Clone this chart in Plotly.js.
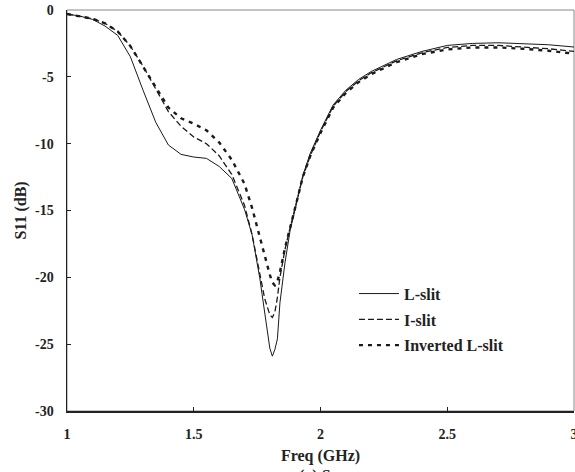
<!DOCTYPE html>
<html>
<head>
<meta charset="utf-8">
<script src="https://cdn.plot.ly/plotly-3.0.1.min.js"></script>
<style>html,body{margin:0;padding:0;background:#fff;}#chart{width:575px;height:472px;}</style>
</head>
<body>
<div id="chart"></div>
<script>
var freq = [1.00,1.05,1.10,1.15,1.20,1.25,1.30,1.35,1.40,1.45,1.50,1.55,1.60,1.65,1.70,1.73,1.76,1.78,1.80,1.81,1.82,1.83,1.84,1.86,1.88,1.90,1.93,1.96,2.00,2.05,2.10,2.15,2.20,2.30,2.40,2.50,2.60,2.70,2.80,2.90,3.00];
var lSlit = [-0.3,-0.45,-0.7,-1.2,-1.9,-3.5,-6.0,-8.4,-10.1,-10.8,-11.0,-11.1,-11.7,-12.6,-14.9,-16.8,-20.0,-22.7,-25.3,-25.9,-25.4,-24.6,-21.9,-18.9,-16.5,-14.9,-12.4,-10.7,-9.0,-7.1,-6.0,-5.2,-4.6,-3.7,-3.1,-2.65,-2.5,-2.45,-2.5,-2.6,-2.77];
var iSlit = [-0.3,-0.45,-0.65,-1.0,-1.6,-2.7,-4.2,-5.9,-7.6,-8.7,-9.5,-10.0,-10.9,-12.3,-14.6,-16.8,-19.6,-21.6,-22.8,-23.0,-22.6,-21.5,-20.0,-17.9,-16.3,-14.8,-12.5,-10.9,-9.1,-7.2,-6.1,-5.3,-4.7,-3.8,-3.2,-2.8,-2.65,-2.65,-2.75,-2.9,-3.1];
var invLSlit = [-0.3,-0.45,-0.65,-1.0,-1.6,-2.7,-4.2,-5.8,-7.3,-8.1,-8.5,-9.0,-9.9,-11.2,-13.0,-14.8,-17.0,-18.5,-19.8,-20.4,-20.6,-20.3,-19.6,-17.8,-16.2,-14.8,-12.5,-10.9,-9.2,-7.3,-6.2,-5.4,-4.8,-3.9,-3.3,-2.95,-2.8,-2.8,-2.9,-3.05,-3.27];
var seriesNames = ['L-slit','I-slit','Inverted L-slit'];
var xTickVals = [1,1.5,2,2.5,3];
var xTickText = ['1','1.5','2','2.5','3'];
var yTickVals = [-30,-25,-20,-15,-10,-5,0];
var yTickText = ['-30','-25','-20','-15','-10','-5','0'];

var serif = 'Liberation Serif, Times New Roman, serif';
var traces = [
  {x:freq, y:lSlit, name:seriesNames[0], legendgroup:'a', mode:'lines', line:{color:'#1a1a1a', width:1}},
  {x:freq, y:iSlit, name:seriesNames[1], legendgroup:'b', mode:'lines', line:{color:'#1a1a1a', width:1.3, dash:'6px,3px'}},
  {x:freq, y:invLSlit, name:seriesNames[2], legendgroup:'c', mode:'lines', line:{color:'#1a1a1a', width:2.4, dash:'4px,5px'}}
];
var layout = {
  width:575, height:472,
  margin:{l:67, r:1, t:10, b:61},
  paper_bgcolor:'#fff', plot_bgcolor:'#fff',
  showlegend:true,
  legend:{x:0.566, y:0.335, xanchor:'left', yanchor:'top', bgcolor:'rgba(0,0,0,0)', traceorder:'grouped', tracegroupgap:2,
          font:{family:serif, size:16, color:'#222', weight:'bold'}, itemwidth:40},
  xaxis:{range:[1,3], tickvals:xTickVals, ticktext:xTickText, ticks:'inside', ticklen:4, tickcolor:'#222',
         showline:true, linecolor:'#222', linewidth:1.5, showgrid:false, zeroline:false,
         ticklabelstandoff:10, ticklabeloverflow:'allow',
         tickfont:{family:serif, size:14, color:'#222', weight:'bold'},
         title:{text:'Freq (GHz)', font:{family:serif, size:16, color:'#222', weight:'bold'}, standoff:8}},
  yaxis:{range:[-30,0], tickvals:yTickVals, ticktext:yTickText, ticks:'inside', ticklen:4, tickcolor:'#222',
         showline:true, linecolor:'#222', linewidth:1.5, showgrid:false, zeroline:false,
         ticklabelstandoff:9, ticklabeloverflow:'allow',
         tickfont:{family:serif, size:14, color:'#222', weight:'bold'},
         title:{text:'S11 (dB)', font:{family:serif, size:16, color:'#222', weight:'bold'}, standoff:4}},
  shapes:[{type:'rect', xref:'paper', yref:'paper', x0:0, x1:1, y0:0, y1:1, line:{color:'#888', width:1}, layer:'below'}],
  annotations:[{text:'(a) S<sub>11</sub>', xref:'paper', yref:'paper', x:0.5, y:-0.135, xanchor:'center', yanchor:'top', showarrow:false,
                font:{family:serif, size:16, color:'#222', weight:'bold'}}]
};
Plotly.newPlot('chart', traces, layout, {displayModeBar:false, staticPlot:true});
</script>
</body>
</html>
